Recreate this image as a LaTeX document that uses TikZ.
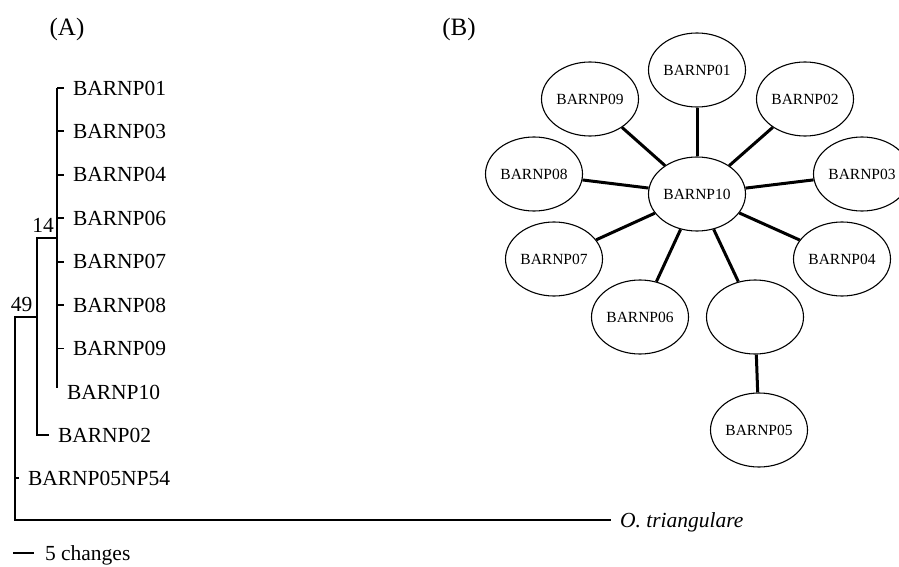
\documentclass[tikz,border=0pt]{standalone}
\usepackage{fontspec}
\setmainfont{Liberation Serif}
\usetikzlibrary{shapes.geometric}

\begin{document}
\begin{tikzpicture}[x=1pt, y=-1pt,
        branch/.style={line width=1.8pt},
        leaf/.style={anchor=west, inner sep=0pt, outer xsep=9pt, text depth=0pt, font=\fontsize{21.5}{25}\selectfont},
        hap/.style={draw, ellipse, line width=1.1pt, minimum width=97pt, minimum height=74pt, inner sep=0pt, font=\fontsize{15.5}{18}\selectfont},
        link/.style={line width=3pt}]
        \useasboundingbox (0,0) rectangle (899,567);

        \node[font=\fontsize{25}{30}\selectfont] (labA) at (67,29) {(A)};
        \node[font=\fontsize{25}{30}\selectfont] (labB) at (459,29) {(B)};

        % tree (A)
        \foreach \id/\k in {01/0,03/1,04/2,06/3,07/4,08/5,09/6}{
            \coordinate (v\id) at (57,88+43.4*\k);
            \node[leaf] (t\id) at (64,88+43.4*\k) {BARNP\id};
            \draw[branch] (v\id) -- (t\id.west);
        }
        \coordinate (v10) at (57,388);
        \node[leaf] (t10) at (58,392) {BARNP10};
        \draw[branch, line width=2.2pt] (v01) -- (v10);

        \coordinate (n14) at (57,238);
        \coordinate (c14) at (37,238);
        \coordinate (c02) at (37,435);
        \node[leaf] (t02) at (49,435) {BARNP02};
        \draw[branch] (n14) -- (c14) -- (c02) -- (t02.west);
        \node[font=\fontsize{21.5}{25}\selectfont, inner sep=0pt] (b14) at (43,225) {14};

        \coordinate (n49) at (37,317);
        \coordinate (c49) at (15,317);
        \coordinate (c05) at (15,478);
        \coordinate (cot) at (15,520);
        \node[leaf] (t05) at (19,478) {BARNP05NP54};
        \node[leaf, font=\fontsize{21.5}{25}\selectfont\itshape] (tot) at (611,520) {O. triangulare};
        \draw[branch] (n49) -- (c49) -- (cot) -- (tot.west);
        \draw[branch] (c05) -- (t05.west);
        \node[font=\fontsize{21.5}{25}\selectfont, inner sep=0pt] (b49) at (21.5,304) {49};

        % scale bar
        \coordinate (s0) at (13,553);
        \coordinate (s1) at (34,553);
        \node[leaf] (scl) at (36,553) {5 changes};
        \draw[branch] (s0) -- (s1);

        % network (B)
        \node[hap] (n10) at (697,194) {BARNP10};
        \node[hap] (n01) at (697,70) {BARNP01};
        \node[hap] (n02) at (805,99) {BARNP02};
        \node[hap] (n03) at (862,174) {BARNP03};
        \node[hap] (n04) at (842,259) {BARNP04};
        \node[hap] (nx) at (755,317) {};
        \node[hap] (n06) at (640,317) {BARNP06};
        \node[hap] (n07) at (554,259) {BARNP07};
        \node[hap] (n08) at (534,174) {BARNP08};
        \node[hap] (n09) at (590,99) {BARNP09};
        \node[hap] (n05) at (759,430) {BARNP05};

        \foreach \t in {01,02,03,04,x,06,07,08,09}
            \draw[link] (n10) -- (n\t);
        \draw[link] (nx) -- (n05);
\end{tikzpicture}
\end{document}
